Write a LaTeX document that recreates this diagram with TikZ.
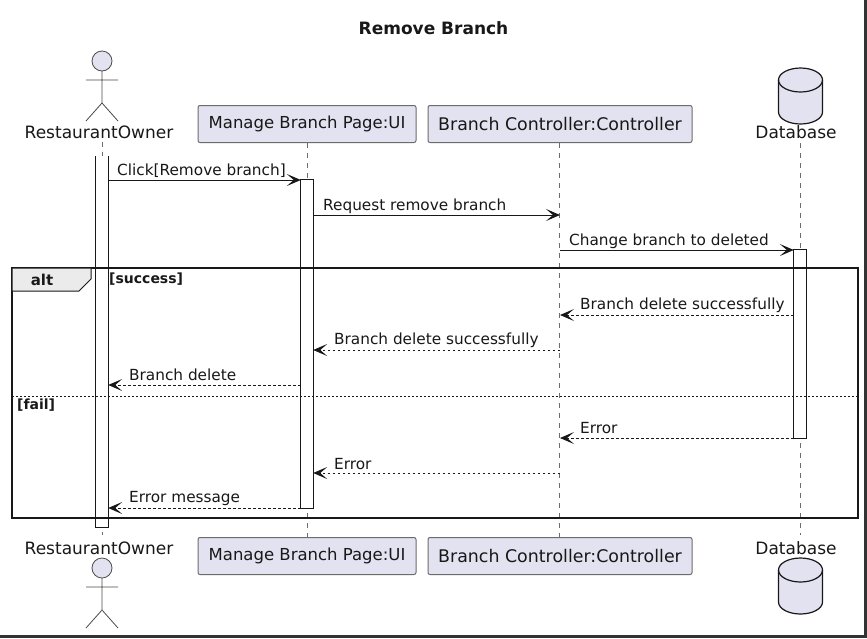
\documentclass[tikz,border=0pt]{standalone}
\usepackage{fontspec}
\setmainfont{DejaVu Sans}
\usetikzlibrary{arrows.meta}
\definecolor{boxfill}{HTML}{E2E2F0}
\definecolor{inkline}{HTML}{181818}
\tikzset{
	participant/.style={draw=gray!85!black,fill=boxfill,rounded corners=2pt,line width=1pt,inner sep=0pt,minimum height=37pt,font=\fontsize{16.5}{18}\selectfont,text=inkline},
	actorname/.style={inner sep=0pt,font=\fontsize{17}{19}\selectfont,text=inkline},
	lifeline/.style={draw=gray!85!black,line width=0.8pt,dash pattern=on 5pt off 5pt},
	activebar/.style={fill=white,inner sep=0pt,minimum width=12pt},
	barline/.style={draw=inkline,line width=1pt},
	syncmsg/.style={draw=inkline,line width=1pt,-{Stealth[length=14pt,width=12pt,inset=7pt]}},
	replymsg/.style={draw=inkline,line width=1pt,dash pattern=on 2.5pt off 2.5pt,-{Stealth[length=14pt,width=12pt,inset=7pt]}},
	msglabel/.style={anchor=west,inner sep=0pt,font=\fontsize{15.3}{17}\selectfont,text=inkline},
	guardlabel/.style={anchor=west,inner sep=0pt,font=\fontsize{14}{16}\selectfont\bfseries,text=inkline},
	pics/actorfig/.style={code={
		\draw[gray!60!black,line width=0.8pt,fill=boxfill] (0,-10) circle (10pt);
		\draw[gray!60!black,line width=0.8pt] (0,0) -- (0,32) (-16,9) -- (16,9) (-16,50) -- (0,32) -- (16,50);
	}},
	pics/dbfig/.style={code={
		\draw[inkline,line width=1.2pt,fill=boxfill] (-22,12) arc[x radius=22pt,y radius=12pt,start angle=180,end angle=0] -- (22,44) arc[x radius=22pt,y radius=12pt,start angle=0,end angle=-180] -- cycle;
		\draw[inkline,line width=1.2pt] (-22,12) arc[x radius=22pt,y radius=12pt,start angle=180,end angle=360];
	}}
}
\begin{document}
\begin{tikzpicture}[x=1pt,y=-1pt]
	\useasboundingbox (0,0) rectangle (867,638);
	\fill[white] (0,0) rectangle (867,638);
	\fill[black!80] (864,0) rectangle (867,638);
	\fill[black!80] (0,635) rectangle (867,638);

	\node[inner sep=0pt,font=\fontsize{17}{19}\selectfont\bfseries,text=inkline] (title) at (433.5,28) {Remove Branch};

	\pic at (102,71) {actorfig};
	\pic at (102,578) {actorfig};
	\pic at (800.5,68) {dbfig};
	\pic at (800.5,558) {dbfig};

	\node[actorname] (ownertop) at (99,132.5) {RestaurantOwner};
	\node[actorname] (ownerbottom) at (99,548) {RestaurantOwner};
	\node[participant,minimum width=218pt] (uitop) at (307,124) {Manage Branch Page:UI};
	\node[participant,minimum width=218pt] (uibottom) at (307,556) {Manage Branch Page:UI};
	\node[participant,minimum width=264pt,font=\fontsize{17.4}{19}\selectfont] (ctrltop) at (560,124) {Branch Controller:Controller};
	\node[participant,minimum width=264pt,font=\fontsize{17.4}{19}\selectfont] (ctrlbottom) at (560,556) {Branch Controller:Controller};
	\node[actorname] (dbtop) at (796,132.5) {Database};
	\node[actorname] (dbbottom) at (796,548) {Database};

	\coordinate (ownerline) at (102,142);
	\coordinate (ownerend) at (102,535);
	\coordinate (dbline) at (800.5,143);
	\coordinate (dbend) at (800.5,535);
	\draw[lifeline] (ownerline) -- (ownerend);
	\draw[lifeline] (uitop) ++(0,19) -- (uibottom.north);
	\draw[lifeline] (ctrltop) ++(-1,19) -- ([xshift=-1pt]ctrlbottom.north);
	\draw[lifeline] (dbline) -- (dbend);

	\node[activebar,minimum height=371pt] (ownerbar) at (102,341.5) {};
	\node[activebar,minimum height=328pt] (uibar) at (307,344) {};
	\node[activebar,minimum height=188pt] (dbbar) at (800,344) {};
	\draw[barline] (ownerbar.north west) -- (ownerbar.south west) -- (ownerbar.south east) -- (ownerbar.north east);
	\draw[barline] (uibar.south west) rectangle (uibar.north east);
	\draw[barline] (dbbar.south west) rectangle (dbbar.north east);

	\draw[inkline,line width=2pt] (12,268) rectangle (858,518);
	\draw[inkline,line width=1pt,fill=black!8] (12,268) -- (91,268) -- (91,279) -- (79,291) -- (12,291) -- cycle;
	\node[inner sep=0pt,font=\fontsize{15}{17}\selectfont\bfseries,text=inkline] (altlabel) at (42,280) {alt};
	\node[guardlabel] (successlabel) at (109,279.5) {[success]};
	\coordinate (sepleft) at (12,396.5);
	\coordinate (sepright) at (858,396.5);
	\draw[inkline,line width=1pt,dash pattern=on 2pt off 2pt] (sepleft) -- (sepright);
	\node[guardlabel] (faillabel) at (17,405.5) {[fail]};

	\coordinate (clickrow) at (0,180);
	\coordinate (requestrow) at (0,215);
	\coordinate (changerow) at (0,250);
	\coordinate (dbokrow) at (0,315);
	\coordinate (ctrlokrow) at (0,350);
	\coordinate (uiokrow) at (0,385);
	\coordinate (dberrrow) at (0,438);
	\coordinate (ctrlerrrow) at (0,473);
	\coordinate (uierrrow) at (0,508);

	\draw[syncmsg] (ownerbar.east |- clickrow) -- (uibar.west |- clickrow);
	\draw[syncmsg] (uibar.east |- requestrow) -- (ctrltop |- requestrow);
	\draw[syncmsg] (ctrltop |- changerow) -- (dbbar.west |- changerow);
	\draw[replymsg] (dbbar.west |- dbokrow) -- (ctrltop |- dbokrow);
	\draw[replymsg] (ctrltop |- ctrlokrow) -- (uibar.east |- ctrlokrow);
	\draw[replymsg] (uibar.west |- uiokrow) -- (ownerbar.east |- uiokrow);
	\draw[replymsg] (dbbar.west |- dberrrow) -- (ctrltop |- dberrrow);
	\draw[replymsg] (ctrltop |- ctrlerrrow) -- (uibar.east |- ctrlerrrow);
	\draw[replymsg] (uibar.west |- uierrrow) -- (ownerbar.east |- uierrrow);

	\node[msglabel] (clicklabel) at (117,171) {Click[Remove branch]};
	\node[msglabel] (requestlabel) at (323,206) {Request remove branch};
	\node[msglabel] (changelabel) at (569,241) {Change branch to deleted};
	\node[msglabel] (dboklabel) at (580,305) {Branch delete successfully};
	\node[msglabel] (ctrloklabel) at (334,340) {Branch delete successfully};
	\node[msglabel] (uioklabel) at (129,375) {Branch delete};
	\node[msglabel] (dberrlabel) at (580,428) {Error};
	\node[msglabel] (ctrlerrlabel) at (334,464) {Error};
	\node[msglabel] (uierrlabel) at (129,499) {Error message};
\end{tikzpicture}
\end{document}
